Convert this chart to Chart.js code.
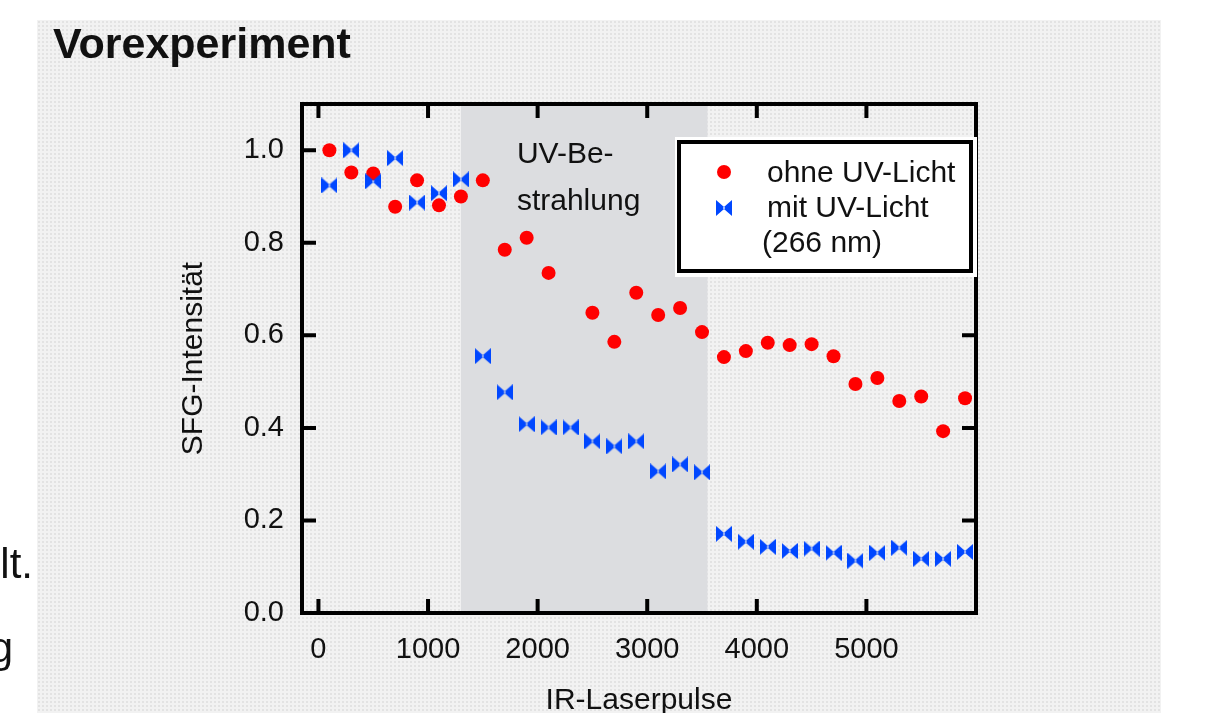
<!DOCTYPE html>
<html>
<head>
<meta charset="utf-8">
<script src="https://cdn.jsdelivr.net/npm/chart.js@4.4.1/dist/chart.umd.min.js"></script>
<style>
  html, body { margin: 0; padding: 0; width: 1208px; height: 713px; overflow: hidden; background: #ffffff; }
  #panel {
    position: absolute; left: 37px; top: 20px; width: 1124px; height: 693px;
    background-color: #f2f2f2;
    background-image: radial-gradient(circle, #e3e3e3 0.9px, rgba(0,0,0,0) 1.2px);
    background-size: 4px 4px;
  }
  #chart { position: absolute; left: 0; top: 0; }
</style>
</head>
<body>
<div id="panel"></div>
<canvas id="chart" width="1208" height="713"></canvas>
<script>
// Number of IR laser pulses at each measurement
const pulses = [100, 300, 500, 700, 900, 1100, 1300, 1500, 1700, 1900,
                2100, 2300, 2500, 2700, 2900, 3100, 3300, 3500, 3700, 3900,
                4100, 4300, 4500, 4700, 4900, 5100, 5300, 5500, 5700, 5900];

// Normalised SFG intensity without UV light (no point recorded at 2300)
const ohneUV = [1.000, 0.952, 0.950, 0.878, 0.935, 0.881, 0.900, 0.935, 0.785, 0.811,
                0.735, null, 0.649, 0.586, 0.692, 0.644, 0.659, 0.607, 0.553, 0.566,
                0.584, 0.579, 0.581, 0.555, 0.495, 0.508, 0.458, 0.468, 0.393, 0.464];

// Normalised SFG intensity with UV light (266 nm)
const mitUV = [0.924, 1.000, 0.933, 0.983, 0.887, 0.907, 0.937, 0.555, 0.477, 0.408,
               0.401, 0.401, 0.371, 0.360, 0.371, 0.306, 0.321, 0.304, 0.171, 0.154,
               0.143, 0.134, 0.139, 0.130, 0.113, 0.130, 0.141, 0.117, 0.117, 0.132];

// Pulse interval during which the sample was irradiated
const uvWindow = [1300, 3550];

const xTickValues = [0, 1000, 2000, 3000, 4000, 5000];
const yTickValues = [0.0, 0.2, 0.4, 0.6, 0.8, 1.0];

const seriesNames = ['ohne UV-Licht', 'mit UV-Licht'];
const legendNote = '(266 nm)';
const bandLabel = ['UV-Be-', 'strahlung'];
const titleText = 'Vorexperiment';
const xTitle = 'IR-Laserpulse';
const yTitle = 'SFG-Intensität';
const sideFragments = ['lt.', 'g'];

const FAMILY = '"Liberation Sans", Arial, Helvetica, sans-serif';
const INK = '#111111';
const RED = '#ff0000';
const BLUE = '#0047ff';

// Bow-tie marker used for the UV series
function makeBowtie(size, color) {
  const c = document.createElement('canvas');
  c.width = size; c.height = size;
  const g = c.getContext('2d');
  const h = size / 2;
  g.fillStyle = color;
  g.beginPath();
  g.moveTo(0, 0); g.lineTo(h + 1.2, h); g.lineTo(0, size); g.closePath();
  g.moveTo(size, 0); g.lineTo(h - 1.2, h); g.lineTo(size, size); g.closePath();
  g.fill();
  return c;
}
const bowtie = makeBowtie(16, BLUE);

function toPoints(ys) {
  return pulses.map((x, i) => ({ x: x, y: ys[i] }));
}

// Shaded irradiation window, plot frame with inward ticks, title, legend
const framePlugin = {
  id: 'frame',
  beforeDraw(chart) {
    const ctx = chart.ctx;
    ctx.save();
    ctx.fillStyle = INK;
    ctx.textAlign = 'left';
    ctx.textBaseline = 'alphabetic';
    ctx.font = 'bold 43px ' + FAMILY;
    ctx.fillText(titleText, 53, 58);
    ctx.font = '42px ' + FAMILY;
    ctx.textAlign = 'right';
    ctx.fillText(sideFragments[0], 33, 578);
    ctx.fillText(sideFragments[1], 13, 662);
    ctx.restore();
  },
  beforeDatasetsDraw(chart) {
    const ctx = chart.ctx;
    const a = chart.chartArea;
    const xs = chart.scales.x, ys = chart.scales.y;
    ctx.save();
    // irradiation window
    const b0 = xs.getPixelForValue(uvWindow[0]);
    const b1 = xs.getPixelForValue(uvWindow[1]);
    ctx.fillStyle = '#dcdde0';
    ctx.fillRect(b0, a.top, b1 - b0, a.bottom - a.top);
    ctx.fillStyle = INK;
    ctx.font = '30px ' + FAMILY;
    ctx.textAlign = 'left';
    ctx.textBaseline = 'alphabetic';
    ctx.fillText(bandLabel[0], b0 + 56, a.top + 59);
    ctx.fillText(bandLabel[1], b0 + 56, a.top + 106);

    // frame
    ctx.strokeStyle = '#000';
    ctx.lineWidth = 4;
    ctx.strokeRect(a.left, a.top, a.right - a.left, a.bottom - a.top);

    // inward ticks on all four sides
    const tl = 14;
    ctx.beginPath();
    xTickValues.forEach(v => {
      const px = xs.getPixelForValue(v);
      ctx.moveTo(px, a.bottom); ctx.lineTo(px, a.bottom - tl);
      ctx.moveTo(px, a.top); ctx.lineTo(px, a.top + tl);
    });
    yTickValues.forEach(v => {
      const py = ys.getPixelForValue(v);
      ctx.moveTo(a.left, py); ctx.lineTo(a.left + tl, py);
      ctx.moveTo(a.right, py); ctx.lineTo(a.right - tl, py);
    });
    ctx.stroke();
    ctx.restore();
  },
  afterDatasetsDraw(chart) {
    const ctx = chart.ctx;
    const a = chart.chartArea;
    const ds = chart.data.datasets;
    const L = a.right - 299, T = a.top + 36, W = 296, H = 133;
    ctx.save();
    ctx.fillStyle = '#ffffff';
    ctx.fillRect(L - 2, T - 3, W + 6, H + 7);
    ctx.strokeStyle = '#000';
    ctx.lineWidth = 4;
    ctx.strokeRect(L + 2, T + 2, W - 4, H - 4);

    const mx = L + 47;
    // circle entry
    ctx.fillStyle = ds[0].backgroundColor;
    ctx.beginPath();
    ctx.arc(mx, T + 32, ds[0].pointRadius, 0, Math.PI * 2);
    ctx.fill();
    // bow-tie entry
    const img = ds[1].pointStyle;
    ctx.drawImage(img, mx - img.width / 2, T + 68 - img.height / 2);

    ctx.fillStyle = INK;
    ctx.font = '30px ' + FAMILY;
    ctx.textAlign = 'left';
    ctx.textBaseline = 'alphabetic';
    ctx.fillText(ds[0].label, L + 90, T + 42);
    ctx.fillText(ds[1].label, L + 90, T + 77);
    ctx.fillText(legendNote, L + 85, T + 112);
    ctx.restore();
  }
};

new Chart(document.getElementById('chart'), {
  type: 'scatter',
  data: {
    datasets: [
      {
        label: seriesNames[0],
        data: toPoints(ohneUV),
        pointStyle: 'circle',
        pointRadius: 7,
        backgroundColor: RED,
        borderWidth: 0,
        order: 2
      },
      {
        label: seriesNames[1],
        data: toPoints(mitUV),
        pointStyle: bowtie,
        pointRadius: 8,
        backgroundColor: BLUE,
        borderWidth: 0,
        order: 1
      }
    ]
  },
  options: {
    responsive: false,
    animation: false,
    devicePixelRatio: 1,
    events: [],
    layout: { padding: { left: 179, top: 104, right: 232, bottom: 0 } },
    plugins: { legend: { display: false }, tooltip: { enabled: false } },
    scales: {
      x: {
        type: 'linear',
        min: -150,
        max: 6000,
        afterBuildTicks: s => { s.ticks = xTickValues.map(v => ({ value: v })); },
        afterFit: s => { s.height = 100; },
        grid: { display: false },
        border: { display: false },
        ticks: {
          font: { family: FAMILY, size: 29 },
          color: INK,
          padding: 12,
          maxRotation: 0,
          autoSkip: false,
          callback: v => String(v)
        },
        title: {
          display: true,
          text: xTitle,
          color: INK,
          font: { family: FAMILY, size: 30, lineHeight: 0.8 },
          padding: 0
        }
      },
      y: {
        type: 'linear',
        min: 0,
        max: 1.1,
        afterBuildTicks: s => { s.ticks = yTickValues.map(v => ({ value: v })); },
        afterFit: s => { s.width = 123; },
        grid: { display: false },
        border: { display: false },
        ticks: {
          font: { family: FAMILY, size: 29 },
          color: INK,
          padding: 10,
          autoSkip: false,
          callback: v => Number(v).toFixed(1)
        },
        title: {
          display: true,
          text: yTitle,
          color: INK,
          font: { family: FAMILY, size: 30, lineHeight: 1 },
          padding: 0
        }
      }
    }
  },
  plugins: [framePlugin]
});
</script>
</body>
</html>
